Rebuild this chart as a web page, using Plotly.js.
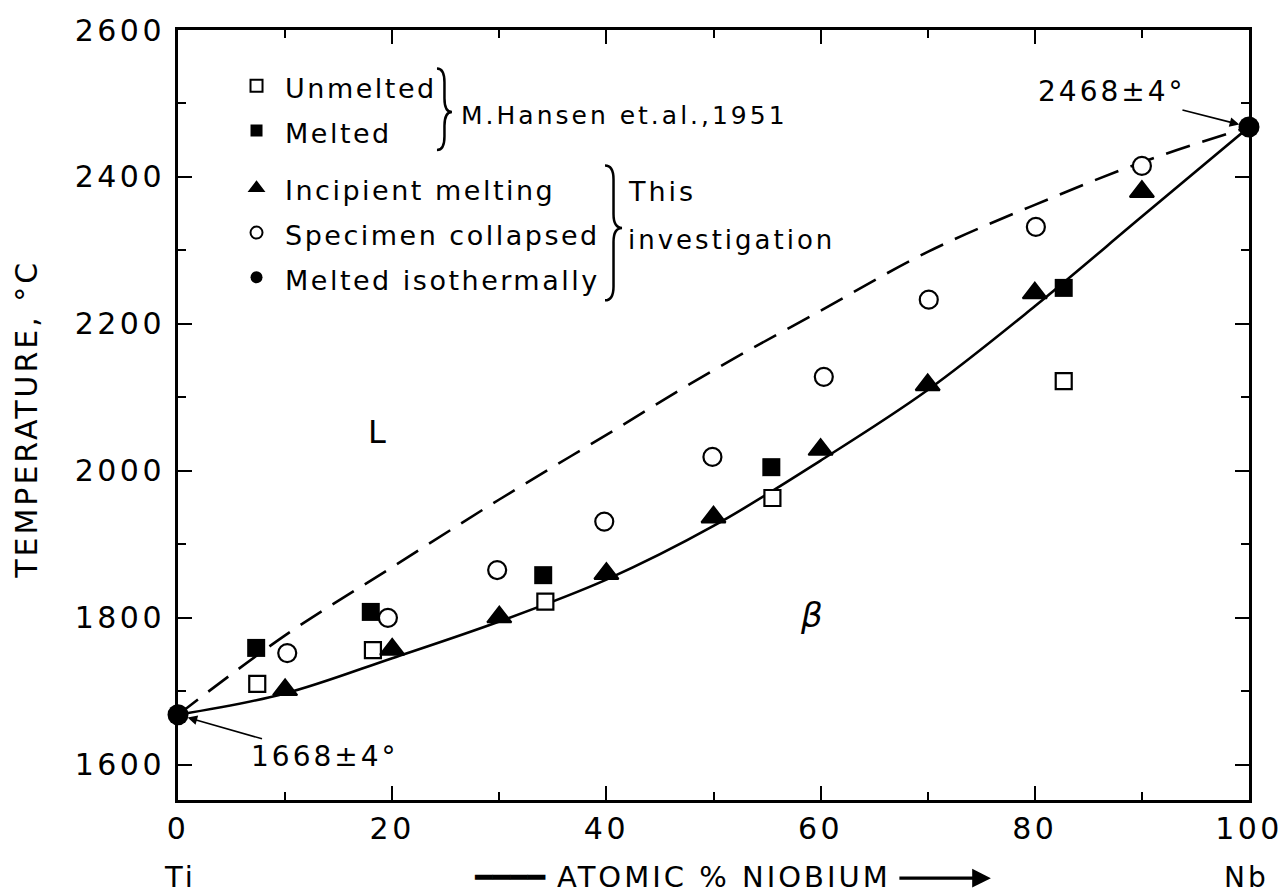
<!DOCTYPE html>
<html>
<head>
<meta charset="utf-8">
<script src="https://cdn.plot.ly/plotly-3.0.1.min.js"></script>
<style>
  html, body { margin: 0; padding: 0; background: #fff; }
  #chart { width: 1288px; height: 896px; }
  /* wide, spaced lettering */
  .xtick text, .ytick text { letter-spacing: 3.5px; }
  .annotation-text { letter-spacing: 3px; }
  .legendtext { letter-spacing: 2.5px; font-size: 27px !important; }
</style>
</head>
<body>
<div id="chart"></div>
<script>
// Ti–Nb melting range: composition in atomic % Nb, temperature in °C

// M. Hansen et al., 1951
const unmeltedX = [7.4, 18.2, 34.3, 55.5, 82.7];
const unmeltedT = [1710, 1756, 1822, 1963, 2122];
const meltedX   = [7.3, 18.0, 34.1, 55.4, 82.7];
const meltedT   = [1759, 1808, 1858, 2005, 2249];

// This investigation
const incipientX = [10, 20, 30, 40, 50, 60, 70, 80, 90];
const incipientT = [1702, 1757, 1801, 1860, 1937, 2029, 2117, 2242, 2380];
const collapsedX = [10.2, 19.6, 29.8, 39.8, 49.9, 60.3, 70.1, 80.1, 90.0];
const collapsedT = [1752, 1800, 1865, 1931, 2019, 2128, 2233, 2332, 2415];
const isothermalX = [0, 100];
const isothermalT = [1668, 2468];

// Solidus (solid) and liquidus (dashed) curves
const curveX    = [0, 10, 20, 30, 40, 50, 60, 70, 80, 90, 100];
const solidusT  = [1668, 1697, 1745, 1795, 1852, 1925, 2014, 2110, 2224, 2346, 2468];
const liquidusT = [1668, 1776, 1869, 1961, 2049, 2137, 2218, 2298, 2362, 2420, 2468];

// Axis ticks
const xTickVals = [0, 20, 40, 60, 80, 100];
const yTickVals = [1600, 1800, 2000, 2200, 2400, 2600];

const FONT = "DejaVu Sans, Liberation Sans, sans-serif";
const INK = "#000";

const traces = [
  { x: curveX, y: solidusT, mode: "lines", showlegend: false, hoverinfo: "skip",
    line: { color: INK, width: 2.6, shape: "spline", smoothing: 1 } },
  { x: curveX, y: liquidusT, mode: "lines", showlegend: false, hoverinfo: "skip",
    line: { color: INK, width: 2.6, shape: "spline", smoothing: 1, dash: "25px,13px" } },
  { x: unmeltedX, y: unmeltedT, mode: "markers", name: "Unmelted", legendgroup: "hansen",
    marker: { symbol: "square", size: 16, color: "#fff", line: { color: INK, width: 2.2 } } },
  { x: meltedX, y: meltedT, mode: "markers", name: "Melted", legendgroup: "hansen",
    marker: { symbol: "square", size: 18, color: INK, line: { width: 0 } } },
  { x: incipientX, y: incipientT, mode: "markers", name: "Incipient melting", legendgroup: "this",
    marker: { symbol: "triangle-up", size: 21, color: INK, line: { color: INK, width: 2 } } },
  { x: collapsedX, y: collapsedT, mode: "markers", name: "Specimen collapsed", legendgroup: "this",
    marker: { symbol: "circle", size: 18, color: "#fff", line: { color: INK, width: 2.2 } } },
  { x: isothermalX, y: isothermalT, mode: "markers", name: "Melted isothermally", legendgroup: "this",
    cliponaxis: false,
    marker: { symbol: "circle", size: 21, color: INK, line: { width: 0 } } }
];

// Curly brace in paper coordinates, opening to the left, tip pointing right
function brace(x0, x1, yTop, yBot, yMid) {
  const xm = (x0 + x1) / 2;
  const r = 0.018;
  return "M" + x0 + "," + yTop +
    " Q" + xm + "," + yTop + " " + xm + "," + (yTop - r) +
    " L" + xm + "," + (yMid + r) +
    " Q" + xm + "," + yMid + " " + x1 + "," + yMid +
    " Q" + xm + "," + yMid + " " + xm + "," + (yMid - r) +
    " L" + xm + "," + (yBot + r) +
    " Q" + xm + "," + yBot + " " + x0 + "," + yBot;
}

const shapes = [
  { type: "path", xref: "paper", yref: "paper", path: brace(0.2418, 0.2558, 0.950, 0.844, 0.8935),
    line: { color: INK, width: 2.5 } },
  { type: "path", xref: "paper", yref: "paper", path: brace(0.3987, 0.4146, 0.824, 0.649, 0.743),
    line: { color: INK, width: 2.5 } }
];

const txt = (size, extra) => Object.assign({ family: FONT, size: size, color: INK }, extra || {});

const annotations = [
  { xref: "paper", yref: "paper", x: 0.262, y: 0.889, xanchor: "left", yanchor: "middle",
    text: "M.Hansen et.al.,1951", showarrow: false, font: txt(25) },
  { xref: "paper", yref: "paper", x: 0.418, y: 0.79, xanchor: "left", yanchor: "middle",
    text: "This", showarrow: false, font: txt(27) },
  { xref: "paper", yref: "paper", x: 0.418, y: 0.727, xanchor: "left", yanchor: "middle",
    text: "investigation", showarrow: false, font: txt(26) },
  { x: 18.7, y: 2053, text: "L", showarrow: false, font: txt(32) },
  { x: 59.3, y: 1804, text: "β", showarrow: false, font: txt(34, { style: "italic" }) },
  { x: 0, y: 1668, text: "1668±4°", showarrow: true, ax: 147, ay: 42,
    arrowhead: 2, arrowsize: 1.2, arrowwidth: 1.6, arrowcolor: INK, standoff: 10, font: txt(28) },
  { x: 100, y: 2468, text: "2468±4°", showarrow: true, ax: -137, ay: -35,
    arrowhead: 2, arrowsize: 1.2, arrowwidth: 1.6, arrowcolor: INK, standoff: 10, font: txt(28) },
  { xref: "paper", yref: "paper", x: -0.141, y: 0.495, textangle: -90, xanchor: "center", yanchor: "middle",
    text: "TEMPERATURE, °C", showarrow: false, font: txt(30) },
  { xref: "paper", yref: "paper", x: 0.002, y: -0.1, xanchor: "center", yanchor: "middle",
    text: "Ti", showarrow: false, font: txt(29) },
  { xref: "paper", yref: "paper", x: 0.4715, y: -0.1, xanchor: "center", yanchor: "middle",
    text: '<span style="letter-spacing:0px">━━━━</span> ATOMIC % NIOBIUM',
    showarrow: false, font: txt(29) },
  // direction arrow after the composition label
  { xref: "paper", yref: "paper", x: 0.759, y: -0.1015, text: "", showarrow: true,
    ax: -93, ay: 0, arrowhead: 2, arrowsize: 1.1, arrowwidth: 3.4, arrowcolor: INK, standoff: 0 },
  { xref: "paper", yref: "paper", x: 0.998, y: -0.1, xanchor: "center", yanchor: "middle",
    text: "Nb", showarrow: false, font: txt(28) }
];

const axisCommon = {
  showgrid: false, zeroline: false,
  showline: true, linecolor: INK, linewidth: 3, mirror: "allticks",
  ticks: "inside", ticklen: 14, tickwidth: 2, tickcolor: INK,
  tickfont: txt(30)
};

const layout = {
  width: 1288, height: 896,
  margin: { l: 178, r: 39, t: 30, b: 96, pad: 0 },
  paper_bgcolor: "#fff", plot_bgcolor: "#fff",
  font: { family: FONT, color: INK },
  showlegend: true,
  legend: {
    x: 0.0467, y: 0.963, xanchor: "left", yanchor: "top",
    bgcolor: "rgba(0,0,0,0)", borderwidth: 0,
    font: txt(32), itemsizing: "constant", itemwidth: 47,
    traceorder: "grouped", tracegroupgap: 13
  },
  xaxis: Object.assign({}, axisCommon, {
    range: [0, 100], tickmode: "array", tickvals: xTickVals,
    ticktext: xTickVals.map(String),
    minor: { dtick: 10, tick0: 0, ticks: "inside", ticklen: 8, tickwidth: 2, tickcolor: INK, showgrid: false }
  }),
  yaxis: Object.assign({}, axisCommon, {
    range: [1552, 2600], tickmode: "array", tickvals: yTickVals,
    ticktext: yTickVals.map(String), ticklabelstandoff: 4,
    minor: { dtick: 100, tick0: 1600, ticks: "inside", ticklen: 8, tickwidth: 2, tickcolor: INK, showgrid: false }
  }),
  shapes: shapes,
  annotations: annotations
};

Plotly.newPlot("chart", traces, layout, { displayModeBar: false, staticPlot: true });
</script>
</body>
</html>
